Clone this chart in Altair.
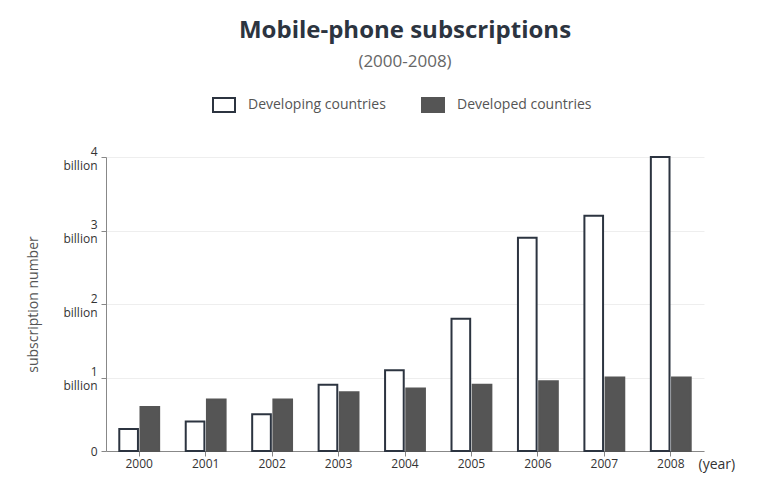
import altair as alt
import pandas as pd

years = ["2000", "2001", "2002", "2003", "2004", "2005", "2006", "2007", "2008"]
developing = [0.3, 0.4, 0.5, 0.9, 1.1, 1.8, 2.9, 3.2, 4.0]
developed = [0.6, 0.7, 0.7, 0.8, 0.85, 0.9, 0.95, 1.0, 1.0]
series = ["Developing countries", "Developed countries"]

rows = []
for y, a, b in zip(years, developing, developed):
    rows.append({"year": y, "series": series[0], "value": a})
    rows.append({"year": y, "series": series[1], "value": b})
df = pd.DataFrame(rows)

FONT = "Open Sans"

chart = alt.Chart(df).mark_bar(strokeWidth=2).encode(
    x=alt.X("year:N", sort=years,
            scale=alt.Scale(paddingInner=0.4, paddingOuter=0.2),
            axis=alt.Axis(title="(year)", labelAngle=0, titleX=592, titleY=13,
                          titleAlign="left", titleBaseline="middle",
                          titleFontWeight="normal", titleFontSize=14,
                          titleColor="#333", labelColor="#333", labelFontSize=12,
                          domainColor="#888", tickColor="#888", tickSize=5,
                          labelPadding=2, grid=False)),
    xOffset=alt.XOffset("series:N", sort=series, scale=alt.Scale(paddingInner=0.12)),
    y=alt.Y("value:Q", scale=alt.Scale(domain=[0, 4], nice=False),
            axis=alt.Axis(title="subscription number", values=[0, 1, 2, 3, 4],
                          labelExpr="datum.value == 0 ? '0' : [format(datum.value, 'd'), 'billion']",
                          labelOffset={"condition": {"test": "datum.value == 0", "value": 0}, "value": -6},
                          titleX=-66, titleFontWeight="normal", titleFontSize=14,
                          titleColor="#555", labelColor="#333", labelFontSize=12,
                          domainColor="#888", tickColor="#888", tickSize=5,
                          labelPadding=4, gridColor="#eeeeee")),
    fill=alt.Fill("series:N", sort=series,
                  scale=alt.Scale(domain=series, range=["#ffffff", "#555555"]),
                  legend=alt.Legend(title=None, orient="none", direction="horizontal",
                                    legendX=106, legendY=-64,
                                    symbolType="M-1,-0.636H1V0.636H-1Z",
                                    symbolSize=484, symbolStrokeWidth=2,
                                    labelFontSize=14, labelColor="#555",
                                    columnPadding=32, labelOffset=12)),
    stroke=alt.Stroke("series:N", sort=series,
                      scale=alt.Scale(domain=series, range=["#2c3440", "#555555"]),
                      legend=None),
).properties(
    width=598, height=294,
    title=alt.TitleParams(text="Mobile-phone subscriptions", subtitle="(2000-2008)",
                          fontSize=24, fontWeight="bold", color="#2c3440",
                          subtitleFontSize=17, subtitleColor="#666",
                          anchor="middle", offset=23, subtitlePadding=11),
    autosize=alt.AutoSizeParams(type="none"),
    padding={"left": 106, "top": 157, "right": 67, "bottom": 36},
).configure(font=FONT).configure_view(stroke=None)

chart.save("out.html", embed_options={"renderer": "svg", "actions": False})
